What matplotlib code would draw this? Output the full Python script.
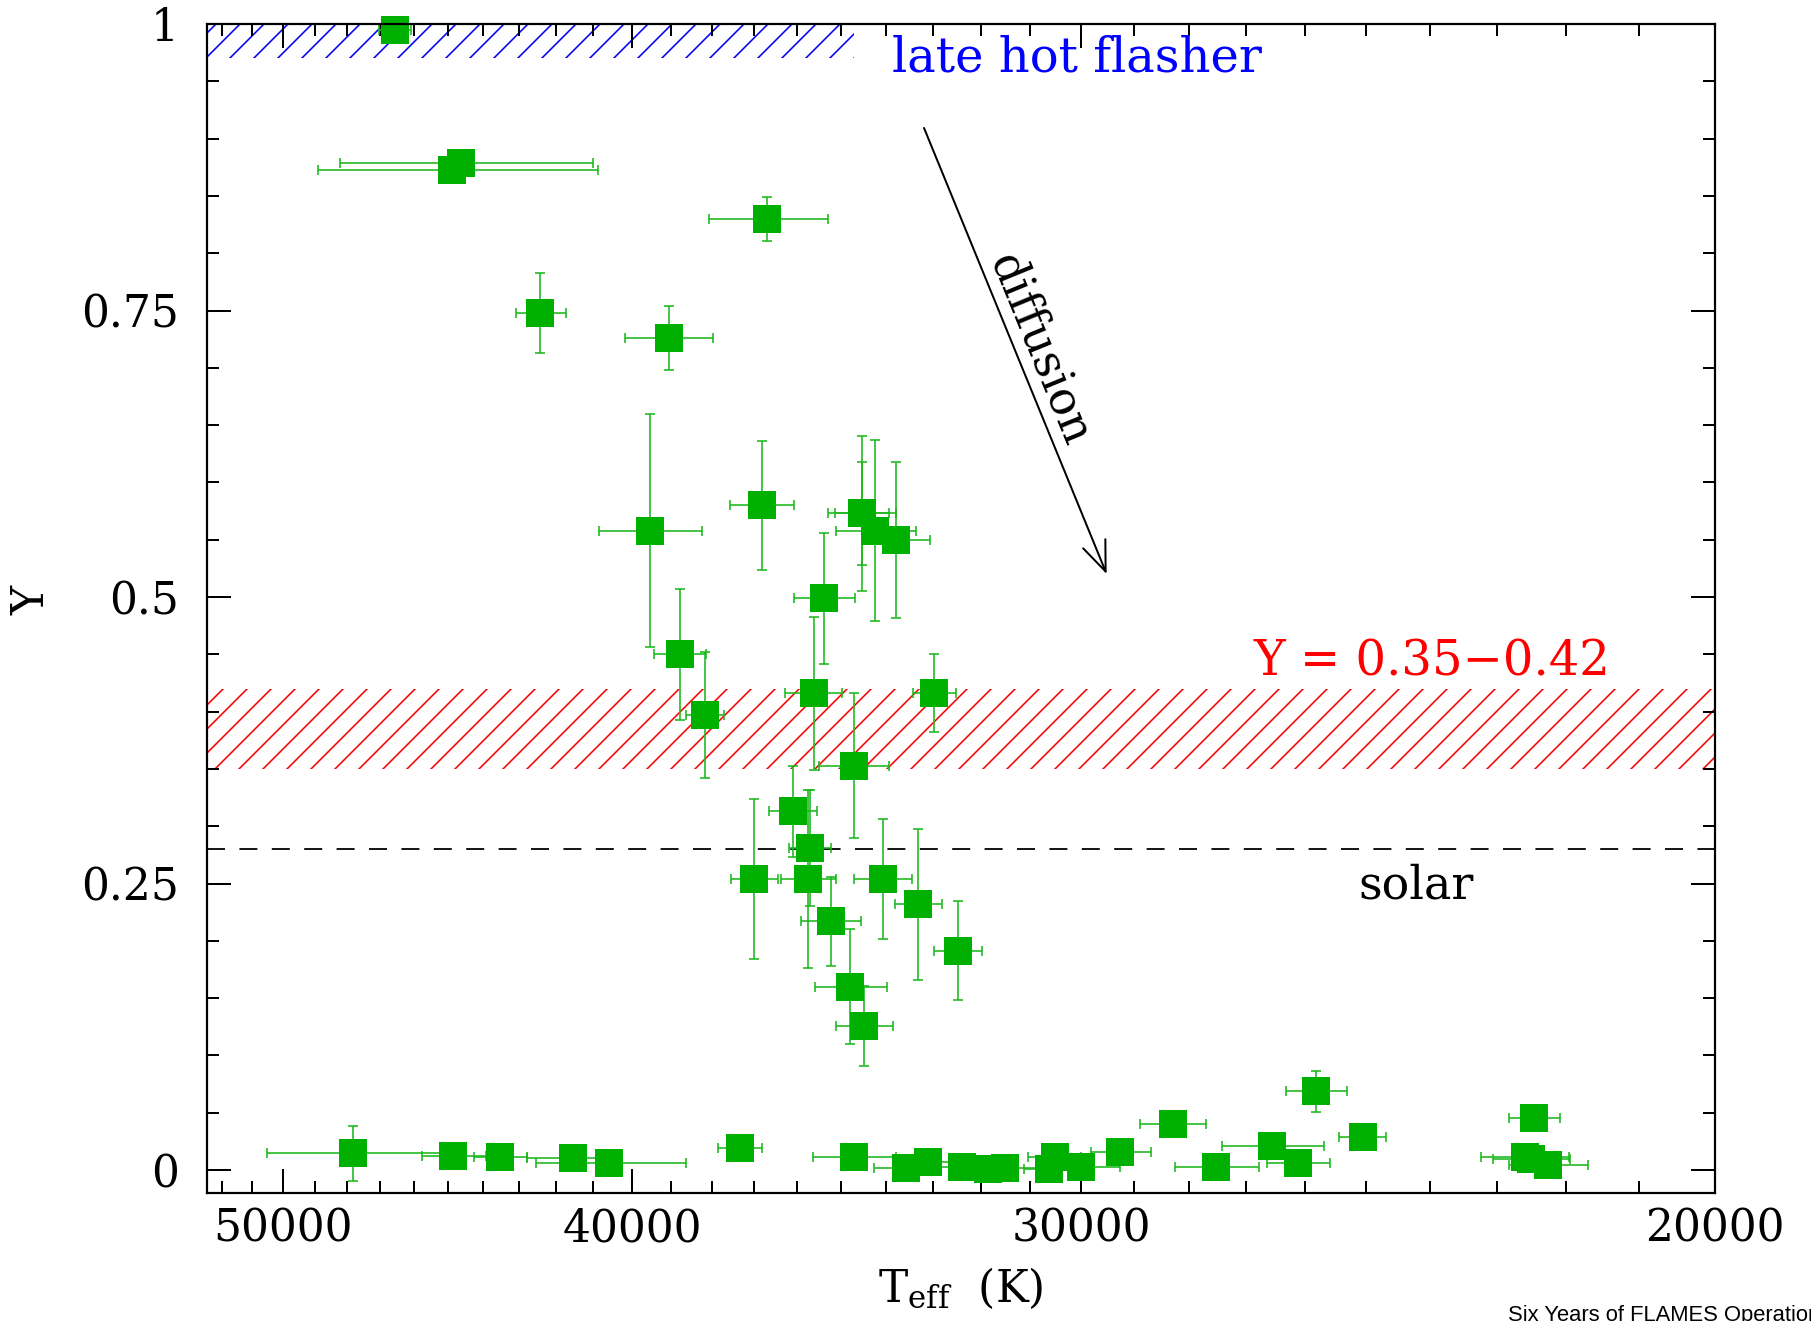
import numpy as np
import matplotlib
matplotlib.use("Agg")
import matplotlib.pyplot as plt
from matplotlib.ticker import FixedLocator, FixedFormatter, NullFormatter

plt.rcParams['font.family'] = 'DejaVu Serif'
plt.rcParams['mathtext.fontset'] = 'dejavuserif'
plt.rcParams['hatch.linewidth'] = 0.8

# Teff (K), helium abundance Y and their error bars
teff = [46540, 44890, 44610, 36680, 42410, 39070, 39540, 36810, 34530, 34530,
        34230, 33790, 35370, 38800, 38180, 35610, 32960, 34710, 36090, 35700,
        36990, 35730, 34070, 33300, 35220, 32470, 34780, 34470,
        47810, 44840, 43520, 41530, 40590, 37330, 34710, 33560, 33090, 32390,
        31840, 31510, 30520, 30630, 30000, 29260, 28300, 27520, 26550, 26120,
        25810, 25060, 22450, 22590, 22500, 22260]
helium = [0.995, 0.873, 0.879, 0.830, 0.748, 0.726, 0.558, 0.580, 0.573, 0.573,
          0.558, 0.550, 0.499, 0.450, 0.397, 0.416, 0.416, 0.353, 0.313, 0.281,
          0.254, 0.254, 0.254, 0.232, 0.217, 0.1915, 0.160, 0.126,
          0.0146, 0.0119, 0.0111, 0.0102, 0.0058, 0.0189, 0.0111, 0.0015, 0.0067, 0.0024,
          0.0006, 0.0015, 0.0111, 0.0006, 0.0029, 0.0157, 0.0399, 0.0024, 0.0209, 0.0058,
          0.0687, 0.0291, 0.0451, 0.0116, 0.0093, 0.0041]
teff_err = [480, 4000, 3600, 1400, 680, 1100, 1300, 760, 760, 590,
            870, 730, 700, 650, 470, 650, 450, 780, 560, 475,
            555, 630, 635, 500, 675, 500, 800, 625,
            2700, 920, 745, 1250, 1950, 515, 920, 700, 700, 600,
            500, 700, 520, 500, 740, 565, 605, 735, 870, 525,
            505, 380, 370, 635, 550, 560]
helium_err = [0.004, 0.0, 0.0, 0.019, 0.035, 0.028, 0.102, 0.056, 0.0675, 0.045,
              0.079, 0.068, 0.057, 0.057, 0.055, 0.067, 0.034, 0.063, 0.040, 0.051,
              0.070, 0.078, 0.052, 0.066, 0.039, 0.043, 0.050, 0.035,
              0.024, 0.003, 0.003, 0.003, 0.003, 0.003, 0.003, 0.002, 0.002, 0.002,
              0.002, 0.002, 0.003, 0.002, 0.002, 0.003, 0.004, 0.002, 0.003, 0.002,
              0.018, 0.004, 0.004, 0.003, 0.002, 0.002]

x_range = [52500, 20000]
y_range = [-0.02, 1.0]
late_flasher = [0.97, 1.0]
late_flasher_teff = [52500, 34700]
canonical = [0.35, 0.42]
y_solar = 0.28

x_major = [50000, 40000, 30000, 20000]
x_minor = [t for t in range(21000, 53000, 1000) if t % 10000 != 0]
y_major = [0, 0.25, 0.5, 0.75, 1]
y_minor = [round(v, 2) for v in np.arange(0.05, 1.0, 0.05) if round(v, 2) not in y_major]

DPI = 144
fig = plt.figure(figsize=(1811 / DPI, 1321 / DPI), dpi=DPI)
ax = fig.add_axes([207 / 1811, 1 - 1193 / 1321, 1508 / 1811, 1169 / 1321])
ax.set_xscale('log')
ax.set_xlim(x_range)
ax.set_ylim(y_range)

# hatched regions
ax.fill_between(late_flasher_teff, late_flasher[0], late_flasher[1],
                facecolor='none', edgecolor='blue', hatch='//', linewidth=0)
ax.fill_between(x_range, canonical[0], canonical[1],
                facecolor='none', edgecolor='red', hatch='//', linewidth=0)
ax.axhline(y_solar, color='black', lw=0.9, linestyle=(0, (10, 8)))

ax.errorbar(teff, helium, xerr=teff_err, yerr=helium_err, fmt='none',
            ecolor='#1cb81c', elinewidth=0.8, capsize=2.5, capthick=0.8)
ax.plot(teff, helium, 's', ms=13.7, mew=0, color='#00b000', clip_on=False)

# labels in the panel
ax.text(33860, 0.9705, 'late hot flasher', color='blue', fontsize=24,
        ha='left', va='center')
ax.text(26880, 0.443, 'Y = 0.35\u22120.42', color='red', fontsize=24,
        ha='left', va='center')
ax.text(25120, 0.2478, 'solar', color='black', fontsize=23,
        ha='left', va='center')
ax.annotate('', xy=(29520, 0.5201), xytext=(33180, 0.9093),
            arrowprops=dict(arrowstyle='->,head_length=1.5,head_width=0.6',
                            mutation_scale=10, lw=1.0, color='black',
                            shrinkA=0, shrinkB=0))
ax.text(30810, 0.7155, 'diffusion', fontsize=23, rotation=-67.7,
        rotation_mode='anchor', ha='center', va='center')

# axes and ticks
ax.xaxis.set_major_locator(FixedLocator(x_major))
ax.xaxis.set_major_formatter(FixedFormatter([str(t) for t in x_major]))
ax.xaxis.set_minor_locator(FixedLocator(x_minor))
ax.xaxis.set_minor_formatter(NullFormatter())
ax.yaxis.set_major_locator(FixedLocator(y_major))
ax.yaxis.set_major_formatter(FixedFormatter(['0', '0.25', '0.5', '0.75', '1']))
ax.yaxis.set_minor_locator(FixedLocator(y_minor))
ax.tick_params(which='both', direction='in', top=True, right=True,
               width=1.0, labelsize=22)
ax.tick_params(which='major', length=12)
ax.tick_params(which='minor', length=6)
ax.tick_params(axis='x', which='major', pad=7)
ax.tick_params(axis='y', which='major', pad=14)
for s in ax.spines.values():
    s.set_linewidth(1.1)

ax.set_xlabel(r'T$_{\mathrm{eff}}$  (K)', fontsize=22, va='center')
ax.xaxis.set_label_coords(0.5, -0.0813)
ax.set_ylabel('Y', fontsize=22, va='center')
ax.yaxis.set_label_coords(-0.116, 0.507)

# footer of the slide, cut by the page edge as in the original
fig.text(1507.7 / 1811, 1 - 1305 / 1321, 'Six Years of FLAMES Operations',
         family='Liberation Sans', fontsize=11, ha='left', va='top')

fig.savefig('out.png', dpi=DPI)
